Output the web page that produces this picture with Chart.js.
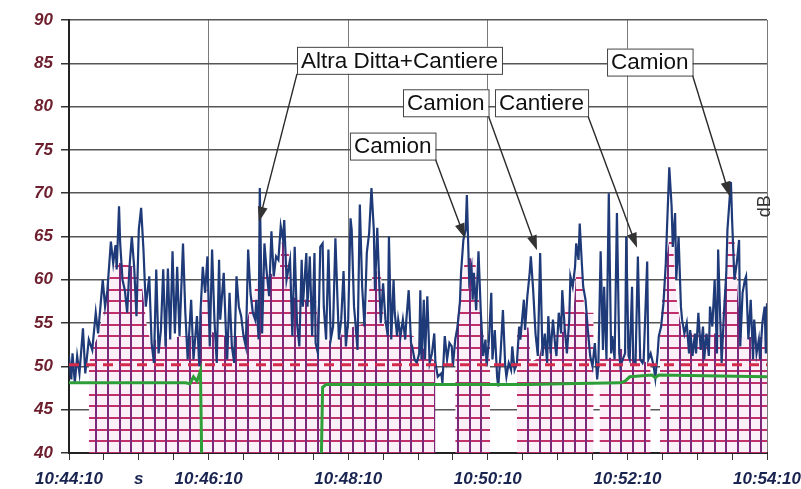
<!DOCTYPE html>
<html lang="it">
<head>
<meta charset="utf-8" />
<title>Rumore cantiere</title>
<script src="https://cdn.jsdelivr.net/npm/chart.js@4.4.1/dist/chart.umd.min.js"></script>
<style>
  html, body { margin: 0; padding: 0; background: #fff; }
  #wrap { width: 801px; height: 489px; }
</style>
</head>
<body>
<div id="wrap"><canvas id="noiseChart"></canvas></div>
<script>
// seconds after 10:44:10
const startSec = 10 * 3600 + 44 * 60 + 10;

// measured level dB(A)
const levelTimes = [
  0, 2, 3, 5, 7, 9, 12, 14, 17, 20,
  23, 25, 29, 31, 33, 36, 38, 40, 41, 43,
  44, 46, 48, 50, 52, 54, 56, 58, 60, 62,
  64, 66, 69, 71, 73, 75, 77, 79, 81, 83,
  85, 87, 89, 91, 93, 95, 98, 100, 102, 105,
  107, 110, 112, 113, 115, 117, 119, 121, 123, 125,
  127, 129, 130, 133, 135, 136, 138, 140, 142, 144,
  146, 148, 150, 152, 154, 156, 158, 160, 161, 163,
  164, 166, 168, 170, 172, 174, 176, 178, 180, 182,
  184, 185, 187, 190, 192, 194, 196, 198, 200, 201,
  204, 205, 207, 209, 211, 212, 214, 216, 218, 219,
  221, 223, 225, 227, 229, 231, 232, 234, 236, 238,
  240, 242, 243, 245, 246, 248, 250, 252, 254, 256,
  258, 260, 262, 263, 265, 267, 268, 270, 272, 274,
  275, 277, 279, 280, 282, 283, 285, 287, 289, 290,
  292, 294, 295, 297, 299, 301, 302, 303, 305, 306,
  308, 310, 312, 314, 315, 317, 320, 321, 323, 325,
  327, 329, 330, 332, 334, 336, 337, 339, 341, 342,
  344, 346, 347, 348, 350, 352, 354, 356, 358, 359,
  361, 363, 364, 366, 368, 369, 371, 373, 375, 376,
  378, 380, 381, 383, 385, 387, 388, 391, 392, 394,
  396, 397, 399, 401, 403, 405, 407, 409, 411, 412,
  414, 416, 418, 419, 421, 423, 424, 426, 428, 430,
  431, 433, 435, 436, 438, 439, 441, 442, 444, 446,
  448, 450, 452, 454, 455, 457, 459, 460, 462, 464,
  466, 467, 469, 471, 473, 474, 476, 478, 479, 481,
  482, 484, 485, 487, 489, 491, 493, 494, 497, 498,
  500, 502, 503, 504, 506, 507, 509, 511, 513, 514,
  516, 518, 519, 521, 522, 524, 526, 527, 529, 531,
  533, 534, 536, 538, 539, 541, 543, 545, 546, 548,
  550, 551, 553, 555, 557, 558, 560, 561, 563, 565,
  566, 568, 569, 570, 572, 574, 576, 577, 579, 581,
  582, 584, 586, 588, 589, 591, 593, 594, 596, 598,
  599, 600
];
const levelValues = [
  51.2, 48.5, 51.5, 48.1, 51.2, 49.2, 54.4, 49.2, 53.1, 51.9,
  56.2, 53.8, 60, 56.9, 58.8, 64.4, 61.9, 64, 61.2, 68.5,
  64.2, 60, 58.8, 56.2, 61.5, 65, 61.5, 55.8, 65.8, 68.3,
  63.5, 56.9, 60.4, 52.7, 50.4, 61.2, 51.5, 54.2, 61.2, 52.3,
  61.3, 53.1, 63.3, 53.8, 61.5, 53.5, 64.2, 56.2, 50.8, 57.7,
  50.8, 55.8, 50, 56.2, 61.5, 58.5, 62.7, 52.3, 63.5, 55.4,
  50.4, 62.3, 55.4, 60.8, 53.5, 50.8, 58.5, 52.3, 50.4, 60.4,
  56.9, 55.8, 53.5, 52.3, 63.5, 58.5, 56.2, 55.4, 57.7, 53.1,
  70.6, 53.8, 64.2, 60.8, 58.1, 65.6, 60.4, 62.7, 62.3, 66.2,
  64.6, 66.9, 60, 62.3, 53.5, 63.8, 55, 52.3, 62.3, 56.9,
  63.1, 56.9, 62.7, 53.5, 63.1, 52.7, 51.5, 63.8, 64.2, 56.9,
  53.1, 63.5, 53.1, 54.6, 64.8, 56.9, 53.1, 55.4, 61, 52.3,
  55.4, 67.1, 65.8, 56.9, 55.4, 51.9, 68.7, 59.2, 54.6, 63.1,
  65.4, 70.6, 65.8, 58.8, 66, 58.5, 55, 59.6, 55.4, 53.5,
  65, 53.1, 60, 56.2, 53.5, 55.4, 53.5, 55.4, 53.1, 55.4,
  58.8, 52.7, 52.3, 50.8, 50.4, 51.5, 58.8, 50.8, 57.7, 50.8,
  58.1, 50.4, 51.5, 53.8, 50.4, 48.8, 49.2, 48.1, 53.5, 50.8,
  52.7, 52.3, 50, 53.1, 54.6, 57.3, 60.8, 64.6, 65.8, 69.8,
  60, 61.5, 57.7, 60.8, 56.5, 63.3, 56.2, 51.2, 53.1, 50,
  53.1, 58.5, 50.8, 54.2, 48.8, 47.7, 51.5, 56.5, 50, 48.8,
  50.4, 49.6, 52.3, 49.6, 50.4, 54.6, 53.1, 57.7, 54.2, 58.1,
  60.8, 62.7, 58.8, 53.8, 51.2, 63.1, 51.2, 53.8, 50.4, 55.8,
  51.5, 55.4, 52.3, 51.2, 56.2, 53.8, 58.8, 54.6, 51.5, 55.4,
  60.4, 59.2, 61.5, 64.2, 62.3, 66.5, 61.5, 59.2, 57.7, 54.2,
  51.2, 50, 52.7, 48.5, 50, 63.3, 51.9, 59.2, 50.8, 70,
  51.5, 53.5, 50.8, 67.7, 51.5, 50, 50.8, 51.5, 65, 51.2,
  50.8, 59.2, 50.8, 50.4, 62.7, 50.8, 50.4, 50.8, 62.1, 50.8,
  51.5, 50.4, 49.6, 48.6, 51.5, 53.5, 54.6, 57.3, 61.9, 65.8,
  73, 68.5, 63.8, 67.7, 60, 65, 56.9, 55.4, 53.8, 55,
  51.5, 54.2, 51.2, 53.8, 51.5, 56.2, 51.9, 54.6, 50.8, 53.8,
  51.2, 56.9, 54.6, 60, 51.5, 63.5, 54.6, 50.4, 56.2, 60.8,
  65.8, 69.6, 71.3, 66.9, 60, 61.9, 64.6, 52.3, 58.5, 60,
  60.4, 53.1, 57.7, 50.8, 55.4, 51.5, 53.1, 50.8, 55, 56.9,
  51.5, 57.3
];

// hatched envelope (null = gap)
const envTimes = [
  17, 20, 25, 29, 33, 36, 42, 56, 63, 67,
  70, 80, 100, 112, 115, 119, 122, 135, 150, 156,
  163, 181, 183, 189, 191, 213, 215, 232, 236, 255,
  258, 262, 268, 271, 296, 305, 315, 316, 332, 335,
  338, 341, 349, 352, 357, 362, 363, 385, 395, 397,
  404, 406, 415, 417, 425, 427, 434, 436, 441, 443,
  451, 452, 456, 467, 469, 493, 495, 500, 501, 508,
  510, 513, 516, 519, 522, 527, 560, 563, 567, 572,
  575, 578, 600
];
const envValues = [
  50.2, 52, 53.5, 56, 59, 61, 62, 61.5, 59, 54.5,
  53, 53.2, 53.5, 53.5, 58, 59, 54, 53.5, 53.5, 57,
  60.5, 60.8, 64.5, 63, 58, 57.5, 53, 53, 54.2, 55,
  58.8, 61, 61, 54.5, 53.5, 52, 50.5, null, 53, 57,
  60.5, 62.5, 62.5, 58, 53, 52.5, null, 54.5, 54.5, 50.5,
  51, 52.3, 52.3, 53.8, 54, 57, 57, 61, 61, 56.2,
  56.2, null, 51, 51, 52, 52, 50.5, 50.5, null, 54,
  58, 62, 64.6, 64.6, 58, 53.8, 53.8, 58, 64.6, 64.6,
  58, 53.4, 53.4
];

// background level (green) and dashed reference
const bgTimes = [0, 100, 104, 107, 110, 113, 114, 115, 217, 218, 221, 396, 425, 474, 478, 482, 501, 504, 507, 600];
const bgValues = [48.1, 48.1, 48.0, 48.8, 48.3, 49.5, 40, null, 40, 47.6, 47.9, 47.9, 48.0, 48.1, 48.3, 48.8, 49.0, 48.7, 49.0, 48.8];
const refTimes = [0, 600];
const refValues = [50.2, 50.2];

const notes = [
  { label: 'Altra Ditta+Cantiere', boxT: 196, boxV: 86.9, tipT: 163.3, tipV: 66.7, from: 'left' },
  { label: 'Camion', boxT: 241.5, boxV: 77, tipT: 340.4, tipV: 64.8, from: 'right' },
  { label: 'Camion', boxT: 287.1, boxV: 82, tipT: 402.3, tipV: 63.4, from: 'right' },
  { label: 'Cantiere', boxT: 366.2, boxV: 82, tipT: 488.3, tipV: 63.7, from: 'right' },
  { label: 'Camion', boxT: 462.5, boxV: 86.7, tipT: 568.2, tipV: 69.6, from: 'right' }
];

const pts = (ts, vs) => ts.map((t, i) => ({ x: t, y: vs[i] }));

function fmtTime(s) {
  const t = startSec + s;
  const h = Math.floor(t / 3600), m = Math.floor(t / 60) % 60, sec = t % 60;
  return h + ':' + String(m).padStart(2, '0') + ':' + String(sec).padStart(2, '0');
}

// magenta grid texture for the envelope
function makeHatch(ctx) {
  const tile = document.createElement('canvas');
  tile.width = 35; tile.height = 35;
  const g = tile.getContext('2d');
  g.fillStyle = '#fcf0f8';
  g.fillRect(0, 0, 35, 35);
  g.fillStyle = '#c2306b';
  [10, 21, 33].forEach(y => g.fillRect(0, y - 1, 35, 2));
  g.fillStyle = '#7a2878';
  [3, 15, 26].forEach(x => g.fillRect(x - 1, 0, 2, 35));
  return ctx.createPattern(tile, 'repeat');
}

const notesPlugin = {
  id: 'notes',
  afterDatasetsDraw(chart) {
    const { ctx, chartArea, scales: { x, y } } = chart;
    ctx.save();
    ctx.font = '22.5px "Liberation Sans", Arial, sans-serif';
    notes.forEach(n => {
      const bx = x.getPixelForValue(n.boxT), by = y.getPixelForValue(n.boxV);
      const w = ctx.measureText(n.label).width + 8, h = 27;
      const sx = n.from === 'left' ? bx : bx + w, sy = by + h;
      const tx = x.getPixelForValue(n.tipT), ty = y.getPixelForValue(n.tipV);
      const a = Math.atan2(ty - sy, tx - sx);
      ctx.strokeStyle = '#2a2a2a';
      ctx.lineWidth = 1.4;
      ctx.beginPath();
      ctx.moveTo(sx, sy);
      ctx.lineTo(tx - 12 * Math.cos(a), ty - 12 * Math.sin(a));
      ctx.stroke();
      ctx.fillStyle = '#333';
      ctx.beginPath();
      ctx.moveTo(tx, ty);
      ctx.lineTo(tx - 15 * Math.cos(a) + 5 * Math.sin(a), ty - 15 * Math.sin(a) - 5 * Math.cos(a));
      ctx.lineTo(tx - 15 * Math.cos(a) - 5 * Math.sin(a), ty - 15 * Math.sin(a) + 5 * Math.cos(a));
      ctx.closePath();
      ctx.fill();
      ctx.fillStyle = '#fff';
      ctx.fillRect(bx, by, w, h);
      ctx.strokeStyle = '#444';
      ctx.lineWidth = 1;
      ctx.strokeRect(bx + 0.5, by + 0.5, w, h);
      ctx.fillStyle = '#111';
      ctx.textBaseline = 'middle';
      ctx.fillText(n.label, bx + 4, by + h / 2 + 1);
    });
    // unit on the right edge
    ctx.translate(chartArea.right - 2, y.getPixelForValue(68.5));
    ctx.rotate(-Math.PI / 2);
    ctx.font = '18px "Liberation Sans", Arial, sans-serif';
    ctx.fillStyle = '#333';
    ctx.textAlign = 'center';
    ctx.textBaseline = 'middle';
    ctx.fillText('dB', 0, 0);
    ctx.restore();
  }
};

const ctx = document.getElementById('noiseChart').getContext('2d');
const hatch = makeHatch(ctx);
const labelFont = { family: '"Liberation Sans", Arial, sans-serif', size: 17, style: 'italic', weight: 'bold' };

new Chart(ctx, {
  type: 'line',
  data: {
    datasets: [
      { data: pts(bgTimes, bgValues), borderColor: '#2e9e38', borderWidth: 3, order: 1 },
      { data: pts(refTimes, refValues), borderColor: '#d42a4b', borderWidth: 3, borderDash: [10, 7], order: 2 },
      { data: pts(levelTimes, levelValues), borderColor: '#1f3a78', borderWidth: 2.2, order: 3 },
      { data: pts(envTimes, envValues), borderWidth: 0, backgroundColor: hatch, fill: 'start', order: 4 }
    ]
  },
  options: {
    responsive: true,
    maintainAspectRatio: false,
    animation: false,
    events: [],
    spanGaps: false,
    elements: { point: { radius: 0 }, line: { tension: 0 } },
    layout: { padding: { top: 20, right: 34, left: 0, bottom: 0 } },
    plugins: { legend: { display: false }, tooltip: { enabled: false } },
    scales: {
      x: {
        type: 'linear',
        min: 0,
        max: 600,
        afterFit: s => { s.height = 36; s.paddingLeft = 0; s.paddingRight = 0; },
        border: { color: '#222', width: 2 },
        grid: {
          color: c => (c.tick.value % 120 === 0 ? '#7a7a7a' : 'rgba(0,0,0,0)'),
          tickColor: '#333',
          tickLength: 7
        },
        ticks: {
          stepSize: 30,
          autoSkip: false,
          maxRotation: 0,
          padding: 9,
          color: '#1a2450',
          font: labelFont,
          callback: v => (v === 60 ? 's' : v % 120 === 0 ? fmtTime(v) : '')
        }
      },
      y: {
        min: 40,
        max: 90,
        afterFit: s => { s.width = 69; },
        border: { color: '#222', width: 2 },
        grid: {
          color: c => (c.tick.value % 5 === 0 ? '#555' : '#e2e2e2'),
          lineWidth: c => (c.tick.value % 5 === 0 ? 1.5 : 1),
          tickColor: '#333',
          tickLength: 8
        },
        ticks: {
          stepSize: 2.5,
          padding: 8,
          color: '#6e1f2e',
          font: labelFont,
          callback: v => (v % 5 === 0 ? String(v) : v === 87.5 ? 'dB(A)' : '')
        }
      }
    }
  },
  plugins: [notesPlugin]
});
</script>
</body>
</html>
